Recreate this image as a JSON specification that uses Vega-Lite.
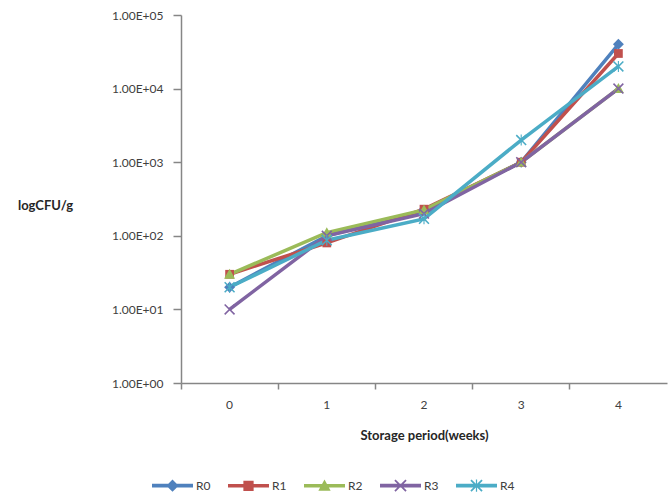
{
  "$schema": "https://vega.github.io/schema/vega-lite/v6.json",
  "width": 486,
  "height": 368,
  "autosize": {"type": "none"},
  "padding": {"left": 181, "top": 15, "right": 1, "bottom": 114},
  "background": "white",
  "config": {
    "view": {"stroke": null},
    "font": "Lato",
    "axis": {
      "domainColor": "#868686",
      "domainWidth": 1.5,
      "tickColor": "#868686",
      "tickWidth": 1.5,
      "grid": false,
      "labelFont": "Lato",
      "labelFontSize": 12,
      "labelColor": "#404040",
      "titleFont": "Lato",
      "titleFontSize": 13,
      "titleFontWeight": "bold",
      "titleColor": "#262626"
    }
  },
  "data": {
    "values": [
      {"series": "R0", "week": 0, "cfu": 20},
      {"series": "R0", "week": 1, "cfu": 100},
      {"series": "R0", "week": 2, "cfu": 220},
      {"series": "R0", "week": 3, "cfu": 1000},
      {"series": "R0", "week": 4, "cfu": 40000},
      {"series": "R1", "week": 0, "cfu": 30},
      {"series": "R1", "week": 1, "cfu": 80},
      {"series": "R1", "week": 2, "cfu": 230},
      {"series": "R1", "week": 3, "cfu": 1000},
      {"series": "R1", "week": 4, "cfu": 30000},
      {"series": "R2", "week": 0, "cfu": 30},
      {"series": "R2", "week": 1, "cfu": 110},
      {"series": "R2", "week": 2, "cfu": 225},
      {"series": "R2", "week": 3, "cfu": 1000},
      {"series": "R2", "week": 4, "cfu": 10000},
      {"series": "R3", "week": 0, "cfu": 10},
      {"series": "R3", "week": 1, "cfu": 100},
      {"series": "R3", "week": 2, "cfu": 200},
      {"series": "R3", "week": 3, "cfu": 1000},
      {"series": "R3", "week": 4, "cfu": 10000},
      {"series": "R4", "week": 0, "cfu": 20},
      {"series": "R4", "week": 1, "cfu": 87},
      {"series": "R4", "week": 2, "cfu": 170},
      {"series": "R4", "week": 3, "cfu": 2000},
      {"series": "R4", "week": 4, "cfu": 20000}
    ]
  },
  "encoding": {
    "x": {
      "field": "week",
      "type": "ordinal",
      "bandPosition": 0.5,
      "scale": {"type": "band", "paddingInner": 0, "paddingOuter": 0},
      "axis": {
        "title": "Storage period(weeks)",
        "labelAngle": 0,
        "tickSize": 6,
        "labelPadding": 10,
        "bandPosition": 0,
        "titleY": 52,
        "titleBaseline": "middle"
      }
    },
    "y": {
      "field": "cfu",
      "type": "quantitative",
      "scale": {"type": "log", "domain": [1, 100000]},
      "axis": {
        "title": "logCFU/g",
        "values": [1, 10, 100, 1000, 10000, 100000],
        "labelExpr": "'1.00E+0' + round(log(datum.value)/LN10)",
        "tickSize": 8,
        "labelPadding": 10,
        "titleAngle": 0,
        "titleAlign": "center",
        "titleBaseline": "middle",
        "titleX": -136,
        "titleY": 190
      }
    }
  },
  "resolve": {"scale": {"color": "independent", "shape": "independent"}},
  "layer": [
    {
      "mark": {"type": "line", "strokeWidth": 3.5},
      "encoding": {
        "color": {
          "field": "series",
          "type": "nominal",
          "scale": {
            "domain": ["R0", "R1", "R2", "R3", "R4"],
            "range": ["#4F81BD", "#C0504D", "#9BBB59", "#8064A2", "#4BACC6"]
          },
          "legend": null
        }
      }
    },
    {
      "mark": {"type": "point", "filled": true, "opacity": 1, "size": 120},
      "encoding": {
        "color": {
          "field": "series",
          "type": "nominal",
          "scale": {
            "domain": ["R0", "R1", "R2", "R3", "R4"],
            "range": ["#4F81BD", "#C0504D", "#9BBB59", "#8064A2", "#4BACC6"]
          },
          "legend": null
        },
        "shape": {
          "field": "series",
          "type": "nominal",
          "scale": {
            "domain": ["R0", "R1", "R2", "R3", "R4"],
            "range": [
              "M0,-1L1,0L0,1L-1,0Z",
              "M-0.8,-0.8H0.8V0.8H-0.8Z",
              "M0,-1L1,0.8L-1,0.8Z",
              "M-1,-0.8L-0.8,-1L1,0.8L0.8,1Z M0.8,-1L1,-0.8L-0.8,1L-1,0.8Z",
              "M-1,-0.8L-0.8,-1L1,0.8L0.8,1Z M0.8,-1L1,-0.8L-0.8,1L-1,0.8Z M-0.1,-1H0.1V1H-0.1Z"
            ]
          },
          "legend": null
        }
      }
    },
    {
      "transform": [{"filter": "datum.week === 0"}],
      "mark": {"type": "point", "filled": true, "opacity": 0, "size": 100},
      "encoding": {
        "color": {
          "field": "series",
          "type": "nominal",
          "scale": {
            "domain": ["R0", "R1", "R2", "R3", "R4"],
            "range": ["#4F81BD", "#C0504D", "#9BBB59", "#8064A2", "#4BACC6"]
          },
          "legend": {
            "orient": "none",
            "legendX": -29,
            "legendY": 450,
            "direction": "horizontal",
            "title": null,
            "symbolSize": 1681,
            "symbolStrokeWidth": 0,
            "symbolOpacity": 1,
            "labelFontSize": 12,
            "labelColor": "#404040",
            "labelOffset": 3,
            "columnPadding": 17
          }
        },
        "shape": {
          "field": "series",
          "type": "nominal",
          "scale": {
            "domain": ["R0", "R1", "R2", "R3", "R4"],
            "range": [
              "M-1,-0.09H1V0.09H-1Z M0,-0.3L0.3,0L0,0.3L-0.3,0Z",
              "M-1,-0.09H1V0.09H-1Z M-0.25,-0.25H0.25V0.25H-0.25Z",
              "M-1,-0.09H1V0.09H-1Z M0,-0.3L0.3,0.24L-0.3,0.24Z",
              "M-1,-0.09H1V0.09H-1Z M-0.3,-0.24L-0.24,-0.3L0.3,0.24L0.24,0.3Z M0.24,-0.3L0.3,-0.24L-0.24,0.3L-0.3,0.24Z",
              "M-1,-0.09H1V0.09H-1Z M-0.3,-0.24L-0.24,-0.3L0.3,0.24L0.24,0.3Z M0.24,-0.3L0.3,-0.24L-0.24,0.3L-0.3,0.24Z M-0.03,-0.3H0.03V0.3H-0.03Z"
            ]
          },
          "legend": {
            "orient": "none",
            "legendX": -29,
            "legendY": 450,
            "direction": "horizontal",
            "title": null,
            "symbolSize": 1681,
            "symbolStrokeWidth": 0,
            "symbolOpacity": 1,
            "labelFontSize": 12,
            "labelColor": "#404040",
            "labelOffset": 3,
            "columnPadding": 17
          }
        }
      }
    }
  ]
}
